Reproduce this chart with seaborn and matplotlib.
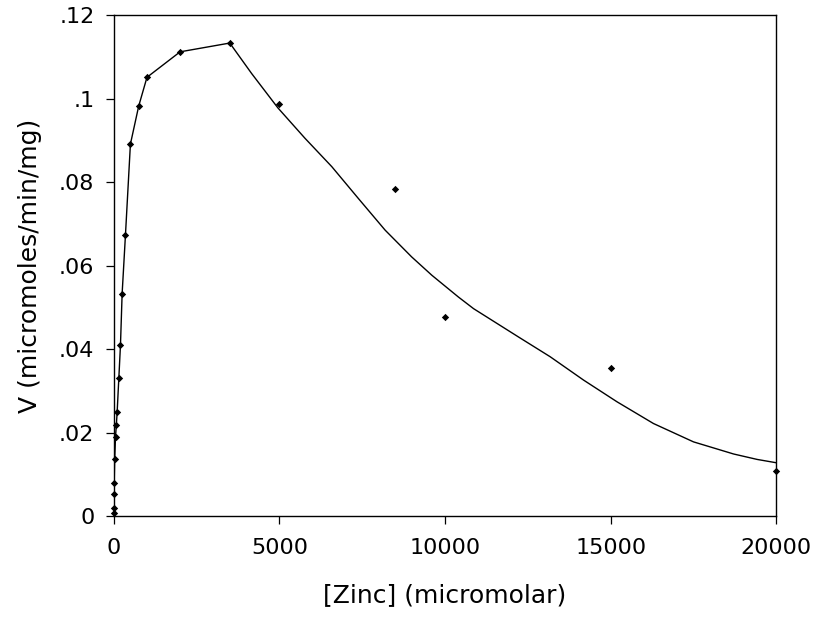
import seaborn as sns
import matplotlib
matplotlib.use("Agg")
import matplotlib.pyplot as plt
from matplotlib.ticker import FuncFormatter
import pandas as pd

# measured points: [Zinc] (micromolar) vs V (micromoles/min/mg)
zinc = [0, 2, 5, 10, 25, 50, 75, 100, 150, 200, 250, 350, 500, 750,
        1000, 2000, 3500, 5000, 8500, 10000, 15000, 20000]
velocity = [0.0007, 0.002, 0.0053, 0.008, 0.0136, 0.019, 0.0218, 0.025,
            0.033, 0.041, 0.0533, 0.0673, 0.0891, 0.0982, 0.1051, 0.1112,
            0.1133, 0.0986, 0.0783, 0.0476, 0.0354, 0.0109]

# drawn curve
curve_x = [0, 2, 5, 10, 25, 50, 75, 100, 150, 200, 250, 350, 500, 750,
           1000, 2000, 3500, 4160, 4950, 5770, 6580, 7380, 8190, 8990,
           9600, 10400, 10860, 12220, 13170, 14180, 15190, 16290, 17500,
           18710, 19420, 20000]
curve_y = [0.0007, 0.002, 0.0053, 0.008, 0.0136, 0.019, 0.0218, 0.025,
           0.033, 0.041, 0.0533, 0.0673, 0.0891, 0.0982, 0.1051, 0.1112,
           0.1133, 0.106, 0.0978, 0.0905, 0.0837, 0.0761, 0.0685, 0.0621,
           0.0577, 0.0525, 0.0497, 0.0429, 0.0382, 0.0326, 0.0274, 0.0222,
           0.0178, 0.0149, 0.0136, 0.0128]

x_ticks = [0, 5000, 10000, 15000, 20000]
y_ticks = [0, 0.02, 0.04, 0.06, 0.08, 0.1, 0.12]

points = pd.DataFrame({"zinc": zinc, "v": velocity})
curve = pd.DataFrame({"zinc": curve_x, "v": curve_y})

sns.set_style("ticks")
plt.rcParams["font.family"] = ["DejaVu Sans"]

fig = plt.figure(figsize=(8.25, 6.28), dpi=100)
ax = fig.add_axes([0.138, 0.178, 0.803, 0.798])

sns.lineplot(data=curve, x="zinc", y="v", sort=False, color="black",
             linewidth=1.0, ax=ax)
sns.scatterplot(data=points, x="zinc", y="v", color="black", marker="D",
                s=14, linewidth=0, ax=ax, clip_on=False, zorder=5)

ax.set_xlim(0, 20000)
ax.set_ylim(0, 0.12)
ax.set_xticks(x_ticks)
ax.set_yticks(y_ticks)
ax.yaxis.set_major_formatter(FuncFormatter(
    lambda v, p: "0" if v == 0 else f"{v:g}".lstrip("0")))

for side in ["top", "right", "left", "bottom"]:
    ax.spines[side].set_visible(True)
    ax.spines[side].set_linewidth(1.0)
    ax.spines[side].set_color("black")

ax.tick_params(direction="out", length=6, width=0.9, labelsize=16,
               colors="black")
ax.tick_params(axis="x", pad=10)
ax.tick_params(axis="y", pad=8)
ax.set_xlabel("[Zinc] (micromolar)", fontsize=18, labelpad=18, color="black")
ax.set_ylabel("V (micromoles/min/mg)", fontsize=18, labelpad=12, color="black")

fig.savefig("out.png", dpi=100, facecolor="white")
